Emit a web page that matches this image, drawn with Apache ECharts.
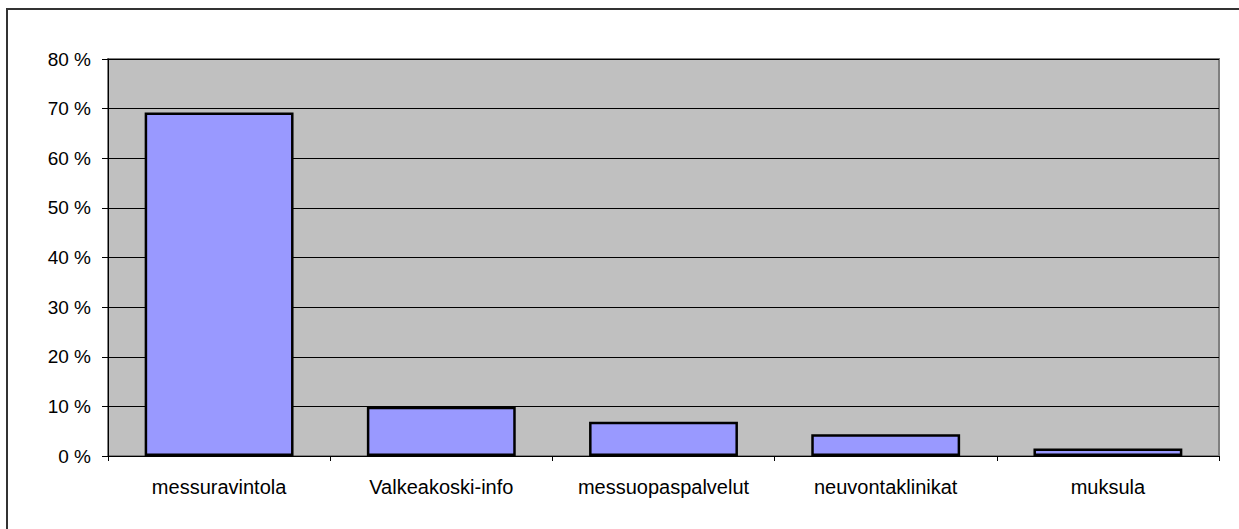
<!DOCTYPE html>
<html>
<head>
<meta charset="utf-8">
<script src="https://cdn.jsdelivr.net/npm/echarts@6/dist/echarts.min.js"></script>
<style>
  html, body { margin: 0; padding: 0; background: #fff; }
  #chart { width: 1239px; height: 529px; }
</style>
</head>
<body>
<div id="chart"></div>
<script>
  // 数据 (从图片读取, 单位 %)
  var categories = ['messuravintola', 'Valkeakoski-info', 'messuopaspalvelut', 'neuvontaklinikat', 'muksula'];
  var shares = [69.2, 9.9, 6.9, 4.4, 1.5];
  var yTicks = { min: 0, max: 80, step: 10 };

  var FONT = '"Liberation Sans", Arial, sans-serif';
  var chart = echarts.init(document.getElementById('chart'), null, { renderer: 'svg' });

  chart.setOption({
    animation: false,
    // 外框
    graphic: [{
      type: 'rect',
      shape: { x: 7, y: 9, width: 1260, height: 560 },
      style: { fill: 'none', stroke: '#333', lineWidth: 2 },
      silent: true
    }],
    grid: {
      left: 108, right: 20, top: 59, bottom: 73,
      show: true,
      backgroundColor: '#c0c0c0',
      borderColor: '#808080',
      borderWidth: 2
    },
    xAxis: {
      type: 'category',
      data: categories,
      axisLine: { lineStyle: { color: '#000', width: 1 } },
      axisTick: { show: true, interval: 0, length: 5, lineStyle: { color: '#000' } },
      axisLabel: { color: '#000', fontFamily: FONT, fontSize: 20, margin: 21, interval: 0, hideOverlap: false }
    },
    yAxis: {
      type: 'value',
      min: yTicks.min, max: yTicks.max, interval: yTicks.step,
      axisLine: { show: true, lineStyle: { color: '#000', width: 1 } },
      axisTick: { show: true, length: 6, lineStyle: { color: '#000' } },
      splitLine: { lineStyle: { color: '#000', width: 1 } },
      axisLabel: { color: '#000', fontFamily: FONT, fontSize: 19, margin: 17, formatter: '{value} %' }
    },
    series: [{
      type: 'bar',
      data: shares,
      barCategoryGap: '33%',
      itemStyle: { color: '#9999ff', borderColor: '#000', borderWidth: 2.5 }
    }]
  });
</script>
</body>
</html>
